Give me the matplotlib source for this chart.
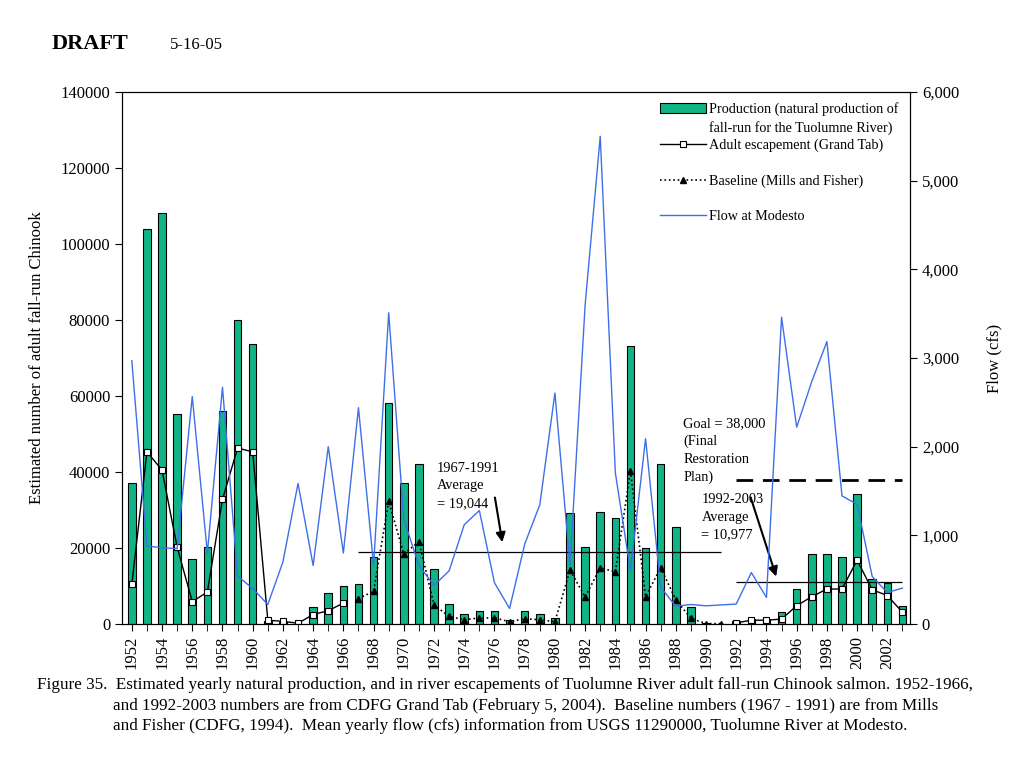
import numpy as np
import matplotlib
matplotlib.use('Agg')
import matplotlib.pyplot as plt
from matplotlib.lines import Line2D
from matplotlib.ticker import MultipleLocator, FuncFormatter

plt.rcParams['font.family'] = ['Liberation Serif', 'DejaVu Serif']

years = list(range(1952, 2004))

# natural production (bars), 1952-2003
prod = [37000, 104000, 108200, 55300, 17200, 20200, 56000, 80000, 73800, 800,
        400, 0, 4500, 8200, 10100, 10400, 17700, 58100, 37000, 42200,
        14600, 5300, 2700, 3400, 3400, 1100, 3400, 2700, 1500, 29200,
        20200, 29500, 28000, 73200, 20000, 42200, 25500, 4500, 200, 100,
        700, 1300, 1300, 3200, 9200, 18400, 18400, 17700, 34200, 11800,
        10800, 4700]

# adult escapement (Grand Tab)
esc_years_a = list(range(1952, 1967))
esc_a = [10400, 45300, 40500, 20200, 5900, 8400, 32800, 46300, 45300, 1000,
         700, 200, 2500, 3500, 5500]
esc_years_b = list(range(1992, 2004))
esc_b = [300, 1000, 1000, 1300, 4800, 7200, 9200, 9200, 16800, 9000, 7500, 3100]

# baseline (Mills and Fisher)
base_years = list(range(1967, 1992))
base = [6700, 8600, 32300, 18400, 21700, 5000, 2000, 1100, 1600, 1600,
        600, 1400, 1100, 600, 14200, 7100, 14800, 13700, 40300, 7200,
        14800, 6400, 1500, 100, 100]

# mean yearly flow at Modesto (cfs)
flow = [2970, 880, 860, 850, 2565, 800, 2670, 540, 400, 220,
        700, 1585, 660, 2000, 800, 2440, 660, 3510, 1180, 660,
        435, 600, 1120, 1280, 465, 175, 900, 1345, 2605, 660,
        3600, 5500, 1705, 600, 2090, 415, 200, 220, 205, 215,
        225, 580, 300, 3460, 2220, 2735, 3185, 1445, 1350, 535,
        355, 405]

avg_6791 = 19044
avg_9203 = 10977
goal = 38000

fig = plt.figure(figsize=(10.24, 7.68), dpi=100)
ax = fig.add_axes([122/1024, 1-624/768, 788/1024, 532/768])
ax2 = ax.twinx()

bars = ax.bar(years, prod, width=0.5, color='#10B487', edgecolor='black', linewidth=0.8)
l1, = ax.plot(esc_years_a, esc_a, color='black', lw=1, marker='s', ms=5,
              mfc='white', mec='black', mew=0.8)
ax.plot(esc_years_b, esc_b, color='black', lw=1, marker='s', ms=5,
        mfc='white', mec='black', mew=0.8)
l2, = ax.plot(base_years, base, color='black', lw=1.2, ls=':', marker='^', ms=5)

# averages and goal
ax.hlines(avg_6791, 1967, 1991, color='black', lw=0.9)
ax.hlines(avg_9203, 1992, 2003, color='black', lw=0.9)
ax.hlines(goal, 1992, 2003, color='black', lw=2, linestyles=(0, (6, 3.5)))

ax.text(1972.2, 42700, '1967-1991\nAverage\n= 19,044', fontsize=10.4, va='top', ha='left',
        linespacing=1.45)
ax.annotate('', xy=(1976.55, 20800), xytext=(1976.0, 34000),
            arrowprops=dict(arrowstyle='-|>', color='black', lw=1.5, mutation_scale=14))
ax.text(1988.5, 54500, 'Goal = 38,000\n(Final\nRestoration\nPlan)', fontsize=10.4,
        va='top', ha='left', linespacing=1.45)
ax.text(1989.7, 34450, '1992-2003\nAverage\n= 10,977', fontsize=10.4, va='top', ha='left',
        linespacing=1.45)
ax.annotate('', xy=(1994.7, 11800), xytext=(1992.9, 34000),
            arrowprops=dict(arrowstyle='-|>', color='black', lw=1.5, mutation_scale=14))

l3, = ax2.plot(years, flow, color='#3F6FE8', lw=1)

ax.set_xlim(1951.35, 2003.5)
ax.set_ylim(0, 140000)
ax2.set_ylim(0, 6000)

ax.yaxis.set_major_locator(MultipleLocator(20000))
ax2.yaxis.set_major_locator(MultipleLocator(1000))
ax2.yaxis.set_major_formatter(FuncFormatter(lambda v, p: f'{int(v):,}'))
ax.xaxis.set_major_locator(MultipleLocator(2))
ax.xaxis.set_minor_locator(MultipleLocator(1))
ax.tick_params(axis='x', which='both', direction='out', length=5, labelsize=12,
               labelrotation=90)
ax.tick_params(axis='y', direction='out', length=5, labelsize=12)
ax2.tick_params(axis='y', direction='out', length=5, labelsize=12)

ax.set_ylabel('Estimated number of adult fall-run Chinook', fontsize=12, labelpad=11)
ax2.set_ylabel('Flow (cfs)', fontsize=12, labelpad=20)

# legend in two blocks to match the uneven spacing
blank = Line2D([], [], color='none')
leg_a = ax2.legend([bars, blank, l1],
                   ['Production (natural production of', 'fall-run for the Tuolumne River)',
                    'Adult escapement (Grand Tab)'],
                   loc='upper left', bbox_to_anchor=(0.676, 0.991), frameon=False,
                   fontsize=10.2, handlelength=3.2, handletextpad=0.2, labelspacing=0.3,
                   borderaxespad=0.0)
ax2.add_artist(leg_a)
ax2.legend([l2, l3], ['Baseline (Mills and Fisher)', 'Flow at Modesto'],
           loc='upper left', bbox_to_anchor=(0.676, 0.855), frameon=False,
           fontsize=10.2, handlelength=3.2, handletextpad=0.2, labelspacing=1.5,
           borderaxespad=0.0)

fig.text(52/1024, 1-44/768, 'DRAFT', fontsize=16, fontweight='bold', va='center')
fig.text(170/1024, 1-45/768, '5-16-05', fontsize=12, va='center')

fig.text(37/1024, 1-685/768, 'Figure 35.  Estimated yearly natural production, and in river '
         'escapements of Tuolumne River adult fall-run Chinook salmon. 1952-1966,',
         fontsize=12.3, va='center')
fig.text(113/1024, 1-706/768, 'and 1992-2003 numbers are from CDFG Grand Tab (February 5, 2004).  '
         'Baseline numbers (1967 - 1991) are from Mills', fontsize=12.3, va='center')
fig.text(113/1024, 1-726/768, 'and Fisher (CDFG, 1994).  Mean yearly flow (cfs) information from '
         'USGS 11290000, Tuolumne River at Modesto.', fontsize=12.3, va='center')

fig.savefig('out.png', dpi=100)
